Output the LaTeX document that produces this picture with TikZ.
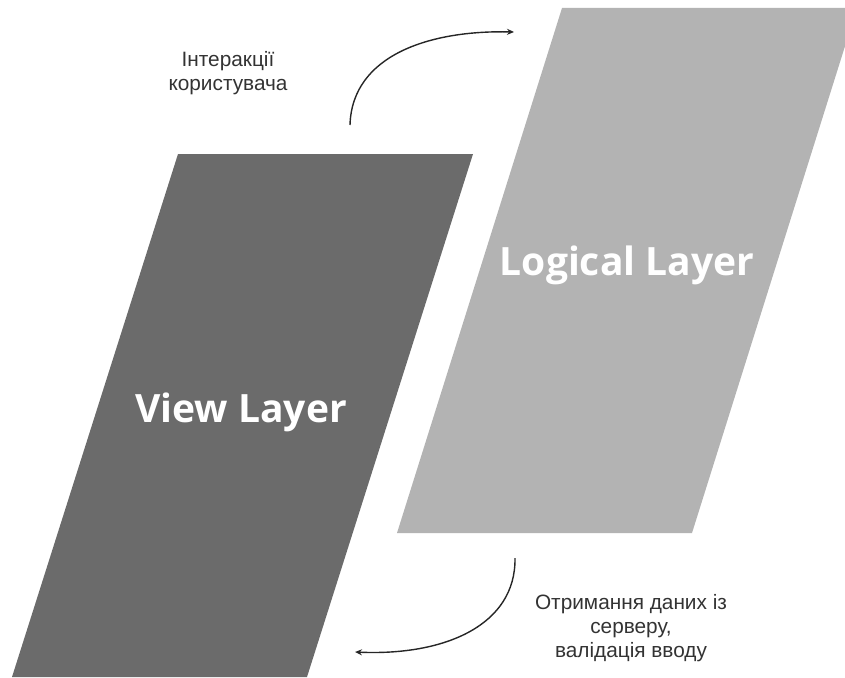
\documentclass[tikz,border=0pt]{standalone}
\usepackage{fontspec}
\setmainfont{Liberation Sans}
\newfontfamily\layerfont{Open Sans}
\usetikzlibrary{arrows.meta}
\definecolor{viewgray}{HTML}{6B6B6B}
\definecolor{logicgray}{HTML}{B3B3B3}
\definecolor{textgray}{HTML}{333333}
\tikzset{
  layerlabel/.style={text=white, font=\layerfont\bfseries\fontsize{39}{42}\selectfont, inner sep=0pt},
  caption/.style={text=textgray, font=\fontsize{20.8}{24}\selectfont, align=center, inner sep=0pt},
  flow/.style={draw=black!85, line width=1.4pt, -{Stealth[length=7pt,width=6pt]}}
}
\begin{document}
\begin{tikzpicture}[x=1pt,y=-1pt]
\useasboundingbox (0,0) rectangle (845,677);
\clip (0,0) rectangle (845,677);
% layers
\fill[logicgray] (562,8) -- (857,8) -- (692,533) -- (397,533) -- cycle;
\fill[viewgray] (178,154) -- (473,154) -- (307,677) -- (12,677) -- cycle;
\node[layerlabel] (logical) at (627,265) {Logical Layer};
\node[layerlabel] (view) at (241,412) {View Layer};
% captions
\node[caption] (ui) at (228,73) {Інтеракції\\користувача};
\node[caption] (srv) at (631,628) {Отримання даних із\\серверу,\\валідація вводу};
% arrows
\coordinate (a1s) at (350,125);
\coordinate (a1e) at (514,32);
\coordinate (a2s) at (515,558);
\coordinate (a2e) at (355,652);
\draw[flow] (a1s) .. controls (352,55) and (430,30) .. (a1e);
\draw[flow] (a2s) .. controls (516,625) and (445,656) .. (a2e);
\end{tikzpicture}
\end{document}
